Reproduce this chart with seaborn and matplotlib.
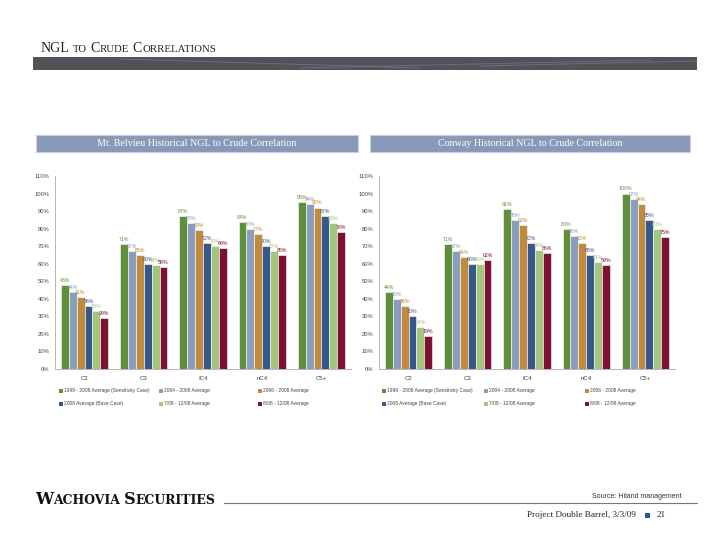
import pandas as pd
import matplotlib
matplotlib.use("Agg")
import matplotlib.pyplot as plt
import seaborn as sns
from matplotlib.patches import Rectangle
from matplotlib.lines import Line2D

W, H = 720, 556

categories = ["C2", "C3", "IC4", "nC4", "C5+"]
series = ["1999 - 2008 Average (Sensitivity Case)", "2004 - 2008 Average",
          "2006 - 2008 Average", "2008 Average (Base Case)",
          "7/08 - 12/08 Average", "8/08 - 12/08 Average"]
colors = ["#5f8f3b", "#8a9dbb", "#c18a3c", "#37588a", "#a4c67c", "#7c1131"]

# Mt. Belvieu
belvieu_1999_2008 = [48, 71, 87, 84, 95]
belvieu_2004_2008 = [44, 67, 83, 80, 94]
belvieu_2006_2008 = [41, 65, 79, 77, 92]
belvieu_2008 = [36, 60, 72, 70, 87]
belvieu_jul_dec = [33, 59, 70, 67, 83]
belvieu_aug_dec = [29, 58, 69, 65, 78]

# Conway
conway_1999_2008 = [44, 71, 91, 80, 100]
conway_2004_2008 = [40, 67, 85, 76, 97]
conway_2006_2008 = [36, 64, 82, 72, 94]
conway_2008 = [30, 60, 72, 65, 85]
conway_jul_dec = [24, 60, 68, 61, 80]
conway_aug_dec = [19, 62, 66, 59, 75]

belvieu = [belvieu_1999_2008, belvieu_2004_2008, belvieu_2006_2008,
           belvieu_2008, belvieu_jul_dec, belvieu_aug_dec]
conway = [conway_1999_2008, conway_2004_2008, conway_2006_2008,
          conway_2008, conway_jul_dec, conway_aug_dec]


def to_long(values):
    rows = []
    for s, vals in zip(series, values):
        for c, v in zip(categories, vals):
            rows.append({"Product": c, "Series": s, "Corr": v})
    return pd.DataFrame(rows)


def fx(px):
    return px / W


def fy(py):
    return 1 - py / H


sns.set_style("white")
plt.rcParams["font.family"] = ["Liberation Sans", "DejaVu Sans"]
fig = plt.figure(figsize=(7.2, 5.56), dpi=100)
renderer = fig.canvas.get_renderer()


def smallcaps(x, y, words, big, small, width=None, **kw):
    # fake small caps; if width is given, scale the sizes so the text fills it
    def draw(scale, keep):
        cx = fx(x)
        made = []
        for word in words:
            for txt, is_big in word:
                t = fig.text(cx, fy(y), txt, fontsize=(big if is_big else small) * scale,
                             va="baseline", ha="left", **kw)
                cx += t.get_window_extent(renderer=renderer).width / fig.bbox.width
                made.append(t)
            cx += small * scale * 0.32 * 100 / 72 / W
        cx -= small * scale * 0.32 * 100 / 72 / W
        if not keep:
            for t in made:
                t.remove()
        return (cx - fx(x)) * W

    scale = 1.0
    if width is not None:
        scale = width / draw(1.0, False)
    draw(scale, True)


serif = "Liberation Serif"

# page title and banner
smallcaps(41, 52.5, [[("NGL", True)], [("TO", False)], [("C", True), ("RUDE", False)],
                     [("C", True), ("ORRELATIONS", False)]], 8.5, 6.6, width=173,
          family=serif, color="#222222")
fig.patches.append(Rectangle((fx(33), fy(70)), fx(697) - fx(33), fy(57) - fy(70),
                             transform=fig.transFigure, fc="#505358", ec="none"))
for x0, x1, y0, y1 in [(120, 420, 59, 68), (300, 650, 68, 60), (480, 697, 66, 61)]:
    fig.lines.append(Line2D([fx(x0), fx(x1)], [fy(y0), fy(y1)], transform=fig.transFigure,
                            color="#7b8088", lw=0.6, alpha=0.7))

panels = [
    ("Mt. Belvieu Historical NGL to Crude Correlation", belvieu, 55, 36, 358, [59, 159, 258]),
    ("Conway Historical NGL to Crude Correlation", conway, 379, 370, 690, [382, 484, 585]),
]

for title, values, ax_left, box_l, box_r, leg_x in panels:
    # header box
    fig.patches.append(Rectangle((fx(box_l), fy(152)), fx(box_r) - fx(box_l), fy(135) - fy(152),
                                 transform=fig.transFigure, fc="#8899b7", ec="#c5cfdf", lw=0.8))
    fig.text(fx((box_l + box_r) / 2), fy(143.5), title, family=serif, fontsize=7.2,
             color="white", ha="center", va="center")

    ax = fig.add_axes([fx(ax_left), fy(369), 296 / W, 193 / H])
    df = to_long(values)
    sns.barplot(data=df, x="Product", y="Corr", hue="Series", order=categories,
                hue_order=series, palette=colors, saturation=1, width=0.8,
                edgecolor="white", linewidth=0.4, ax=ax, legend=False)
    for cont, col in zip(ax.containers, colors):
        ax.bar_label(cont, fmt="%d%%", color=col, fontsize=3.8, padding=1.5)

    ax.set_ylim(0, 110)
    ax.set_xlim(-0.5, 4.5)
    ax.set_yticks(range(0, 111, 10))
    ax.set_yticklabels([f"{v}%" for v in range(0, 111, 10)], fontsize=4.2, color="#444444")
    ax.set_xticks(range(len(categories)))
    ax.set_xticklabels(categories, fontsize=4.4, color="#444444")
    ax.set_xticks([i - 0.5 for i in range(len(categories) + 1)], minor=True)
    ax.tick_params(axis="x", which="major", length=0, pad=5)
    ax.tick_params(axis="x", which="minor", length=2.5, color="#aaaaaa", width=0.6)
    ax.tick_params(axis="y", length=2, color="#aaaaaa", width=0.6, pad=2)
    ax.set_xlabel("")
    ax.set_ylabel("")
    for side in ["top", "right"]:
        ax.spines[side].set_visible(False)
    for side in ["left", "bottom"]:
        ax.spines[side].set_color("#b5b5b5")
        ax.spines[side].set_linewidth(0.7)

    # legend, 3 columns x 2 rows
    for i, (s, col) in enumerate(zip(series, colors)):
        lx = leg_x[i % 3]
        ly = 390.5 if i < 3 else 404
        fig.patches.append(Rectangle((fx(lx), fy(ly + 2)), 4 / W, 4 / H,
                                     transform=fig.transFigure, fc=col, ec="none"))
        fig.text(fx(lx + 5), fy(ly), s, fontsize=3.5, color="#444444", va="center", ha="left")

# footer
smallcaps(35, 504, [[("W", True), ("ACHOVIA", False)], [("S", True), ("ECURITIES", False)]],
          10, 7.6, width=180, family="DejaVu Serif", weight="bold", color="#111111")
fig.lines.append(Line2D([fx(224), fx(697)], [fy(503), fy(503)], transform=fig.transFigure,
                        color="#777777", lw=0.8))
fig.text(fx(682), fy(496), "Source: Hiland management", fontsize=5, color="#333333",
         ha="right", va="center")
fig.text(fx(636), fy(515), "Project Double Barrel, 3/3/09", family=serif, fontsize=6.6,
         color="#222222", ha="right", va="center")
fig.patches.append(Rectangle((fx(645), fy(518)), 5 / W, 5 / H, transform=fig.transFigure,
                             fc="#2f5597", ec="none"))
fig.text(fx(657), fy(515), "21", family=serif, fontsize=6.6, color="#222222",
         ha="left", va="center")

fig.savefig("out.png", dpi=100)
